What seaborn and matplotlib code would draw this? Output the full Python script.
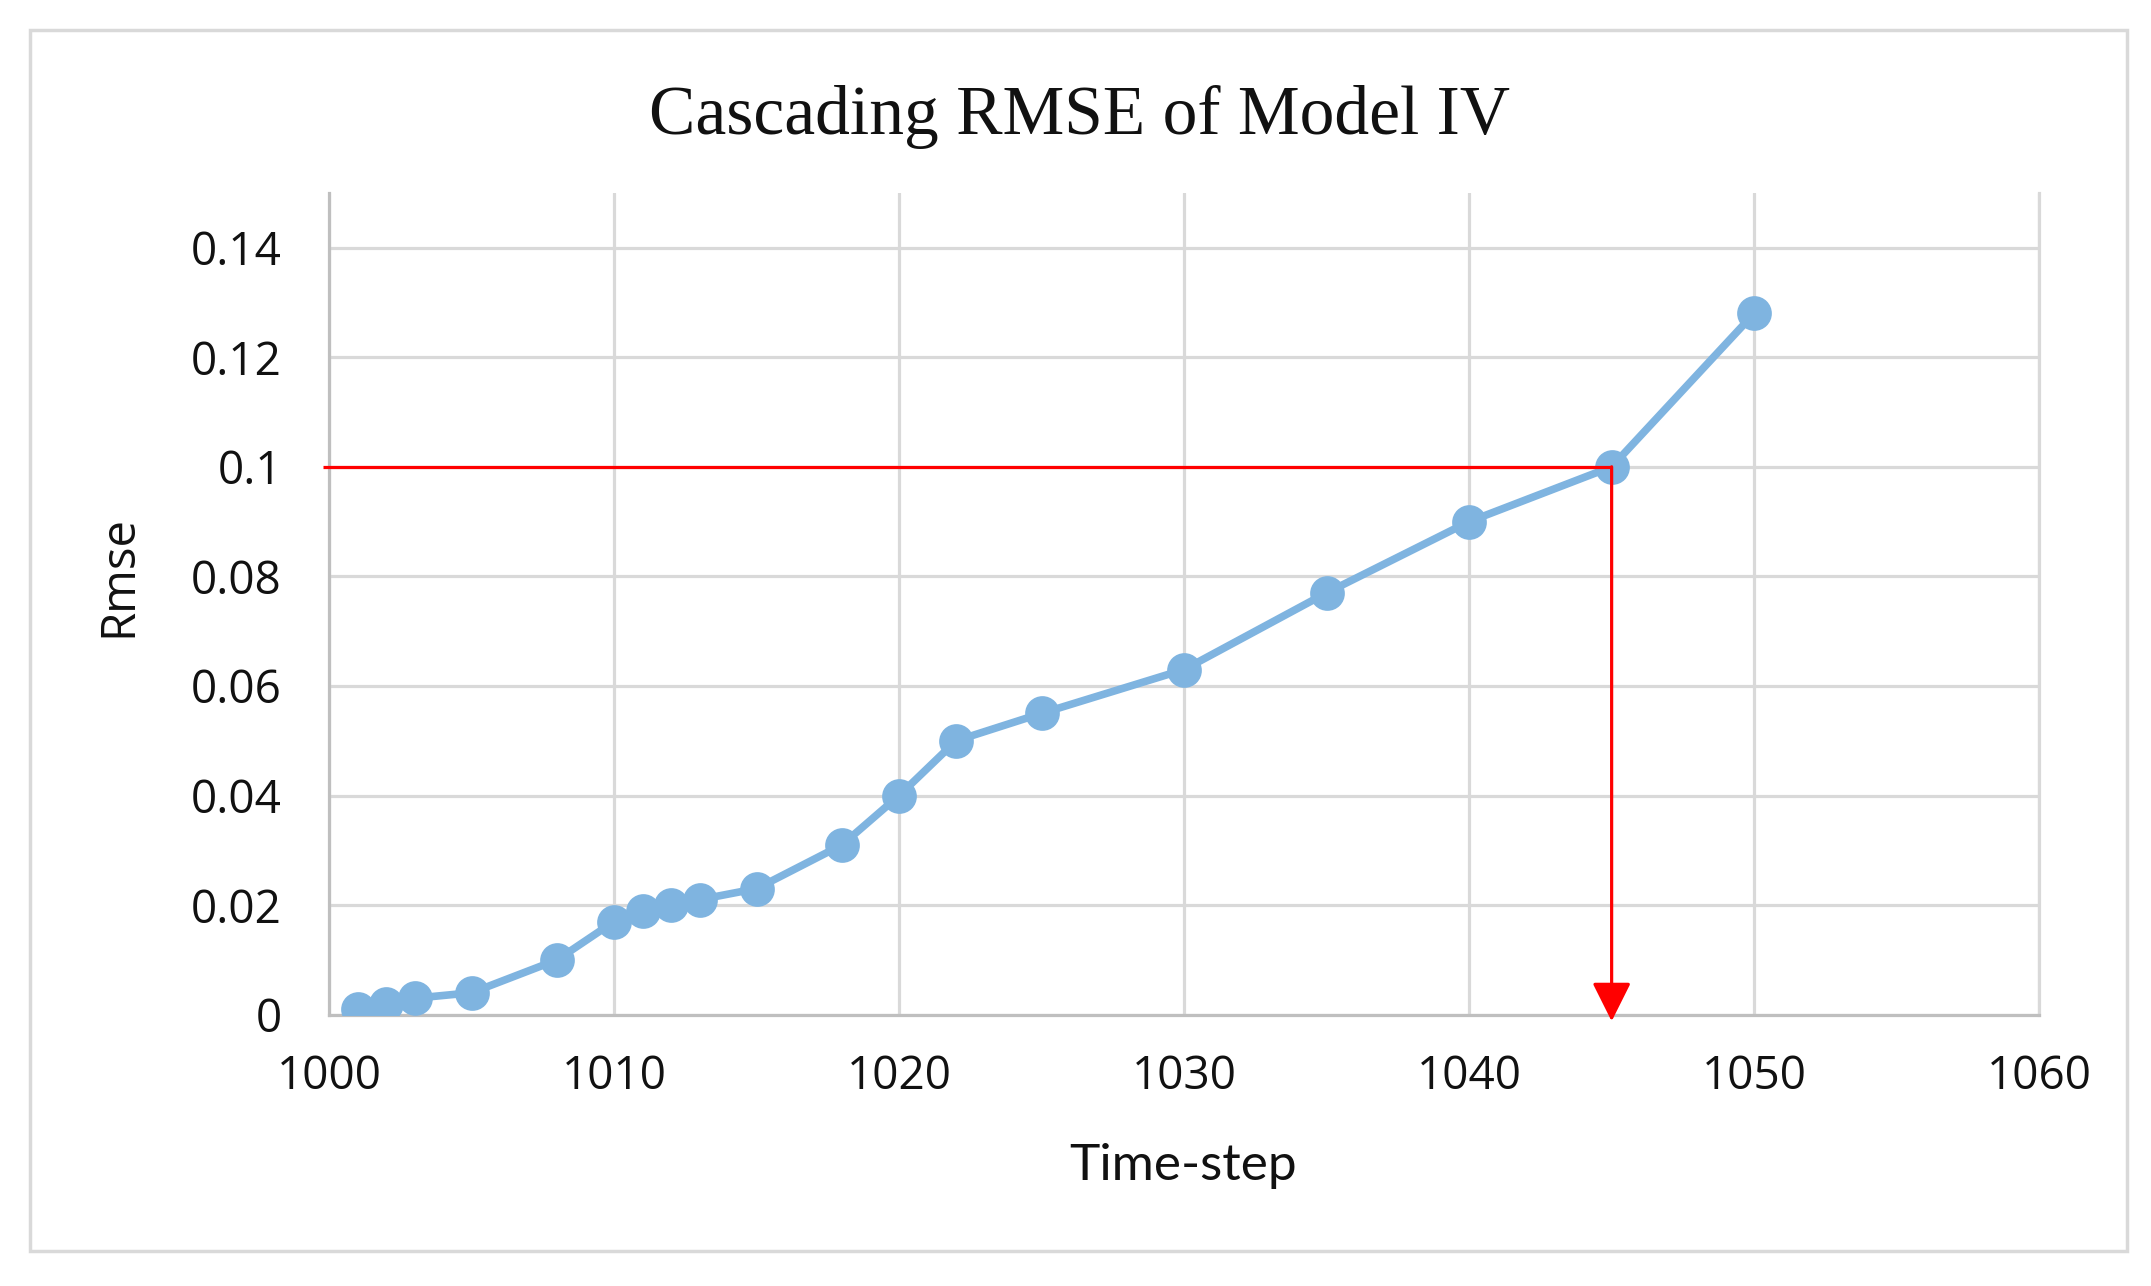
import numpy as np
import pandas as pd
import matplotlib.pyplot as plt
import seaborn as sns

# values
time_step = [1001, 1002, 1003, 1005, 1008, 1010, 1011, 1012, 1013, 1015,
             1018, 1020, 1022, 1025, 1030, 1035, 1040, 1045, 1050]
rmse = [0.001, 0.002, 0.003, 0.004, 0.010, 0.017, 0.019, 0.020, 0.021, 0.023,
        0.031, 0.040, 0.050, 0.055, 0.063, 0.077, 0.090, 0.100, 0.128]
threshold = 0.1
cross_step = 1045
x_ticks = [1000, 1010, 1020, 1030, 1040, 1050, 1060]
y_ticks = [0, 0.02, 0.04, 0.06, 0.08, 0.1, 0.12, 0.14]

df = pd.DataFrame({'Time-step': time_step, 'Rmse': rmse})

sns.set_theme(style='white')
plt.rcParams['font.family'] = ['Open Sans', 'DejaVu Sans']
plt.rcParams['text.color'] = '#111111'

blue = '#7FB4E0'
grid = '#D9D9D9'

fig = plt.figure(figsize=(21.51, 12.86), dpi=100)
ax = fig.add_axes([0.153, 0.211, 0.795, 0.639])

sns.lineplot(data=df, x='Time-step', y='Rmse', ax=ax, color=blue,
             linewidth=5.5, marker='o', markersize=25,
             markeredgecolor=blue, markeredgewidth=0, zorder=3)

# red guide lines at the threshold
ax.hlines(threshold, x_ticks[0] - 0.2, cross_step, color='red', lw=2.3,
          zorder=4, clip_on=False)
ax.annotate('', xy=(cross_step, -0.0012), xytext=(cross_step, threshold),
            arrowprops=dict(arrowstyle='-|>,head_length=0.8,head_width=0.4',
                            mutation_scale=30, color='red', lw=2.3,
                            shrinkA=0, shrinkB=0),
            annotation_clip=False, zorder=5)

ax.set_xlim(x_ticks[0], x_ticks[-1])
ax.set_ylim(0, 0.15)
ax.set_xticks(x_ticks)
ax.set_yticks(y_ticks)
ax.set_yticklabels(['%g' % v for v in y_ticks])
ax.tick_params(axis='both', labelsize=33, length=0, colors='#111111')
ax.tick_params(axis='y', pad=34)
ax.tick_params(axis='x', pad=28)

ax.grid(True, color=grid, lw=2.3)
ax.set_axisbelow(True)
for side in ['left', 'bottom']:
    ax.spines[side].set_color('#BFBFBF')
    ax.spines[side].set_linewidth(2.3)
ax.spines['right'].set_color(grid)
ax.spines['right'].set_linewidth(2.3)
ax.spines['top'].set_visible(False)

ax.set_xlabel('')
ax.set_ylabel('')
fig.text(0.550, 0.093, 'Time-step', fontsize=37, family=['Lato', 'DejaVu Sans'],
         ha='center', va='center')
fig.text(0.055, 0.552, 'Rmse', fontsize=34, rotation=90,
         ha='center', va='center')
fig.text(0.502, 0.909, 'Cascading RMSE of Model IV', fontsize=50,
         family=['Liberation Serif', 'DejaVu Serif'], ha='center', va='center')

# outer chart border
fig.add_artist(plt.Rectangle((0.014, 0.027), 0.975, 0.950,
                             transform=fig.transFigure, fill=False,
                             edgecolor=grid, lw=2.5))

plt.savefig('out.png', dpi=100)
